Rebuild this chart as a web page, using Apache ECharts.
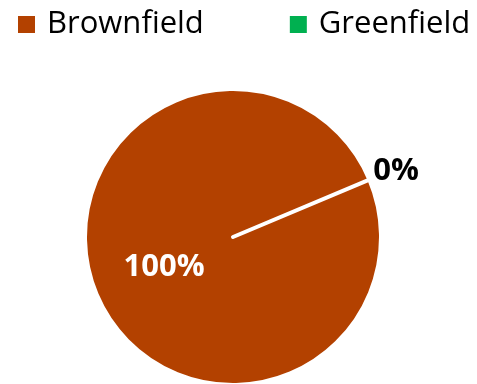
<!DOCTYPE html>
<html><head><meta charset="utf-8">
<script src="https://cdn.jsdelivr.net/npm/echarts@6/dist/echarts.min.js"></script>
<style>html,body{margin:0;padding:0;background:#fff}#c{width:477px;height:384px}</style>
</head><body><div id="c"></div>
<script>
const categories = ["Brownfield", "Greenfield"];
const values = [100, 0];
const colors = ["#B34100", "#00B050"];

const chart = echarts.init(document.getElementById('c'), null, {renderer: 'canvas'});
chart.setOption({
  animation: false,
  legend: {
    data: categories,
    top: 4,
    left: 11,
    icon: 'rect',
    itemWidth: 19,
    itemHeight: 19,
    itemGap: 84,
    textStyle: {fontFamily: 'Open Sans', fontSize: 31, color: '#000', padding: [0, 0, 0, 6]}
  },
  series: [{
    type: 'pie',
    center: [233, 237],
    radius: 148,
    startAngle: 22.8,
    avoidLabelOverlap: false,
    itemStyle: {borderColor: '#fff', borderWidth: 4},
    data: categories.map((c, i) => ({
      name: c, value: values[i],
      itemStyle: {color: colors[i]},
      label: i === 0 ? {position: 'inside', color: '#fff'} : {position: 'outside', color: '#000'}
    })),
    label: {
      formatter: p => Math.round(p.percent) + '%',
      fontFamily: 'Open Sans', fontWeight: 'bold', fontSize: 31
    },
    labelLine: {show: false, length: 2, length2: 0},
    labelLayout: p => p.dataIndex === 1 ? {dx: -3, dy: -8} : {dx: 2}
  }]
});
</script></body></html>
